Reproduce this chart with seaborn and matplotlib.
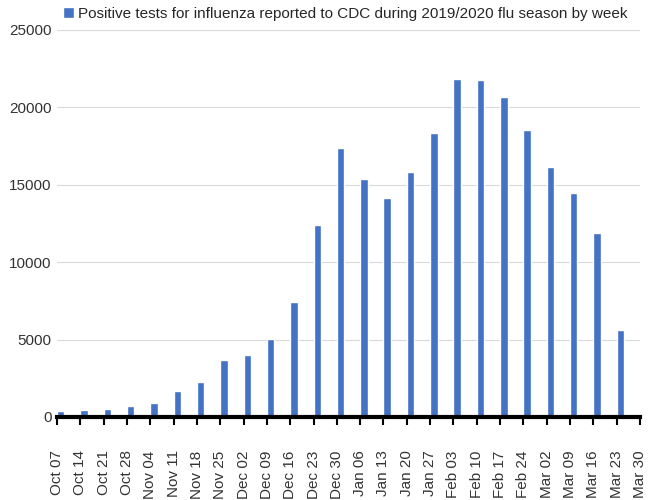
import matplotlib
matplotlib.use("Agg")
import matplotlib.pyplot as plt
import seaborn as sns
import numpy as np
import pandas as pd

weeks = ["Oct 07","Oct 14","Oct 21","Oct 28","Nov 04","Nov 11","Nov 18","Nov 25","Dec 02","Dec 09",
         "Dec 16","Dec 23","Dec 30","Jan 06","Jan 13","Jan 20","Jan 27","Feb 03","Feb 10","Feb 17",
         "Feb 24","Mar 02","Mar 09","Mar 16","Mar 23","Mar 30"]
positives = [400, 480, 520, 700, 900, 1650, 2250, 3650, 4000, 5050,
             7400, 12400, 17350, 15400, 14150, 15850, 18350, 21850, 21800, 20650,
             18550, 16150, 14500, 11900, 5600, 1200]
label = "Positive tests for influenza reported to CDC during 2019/2020 flu season by week"

sns.set_style("white")
plt.rcParams['font.family'] = ['Liberation Sans', 'DejaVu Sans']
fig = plt.figure(figsize=(6.5, 5), dpi=100)
ax = fig.add_axes([57/650, 83/500, 583/650, 387/500])
df = pd.DataFrame({"week": weeks, "value": positives})
sns.barplot(data=df, x="week", y="value", color="#4472c4", saturation=1, width=0.32, ax=ax, label=label)
n = len(weeks)
ax.set_xticks(np.arange(n) - 0.16)
ax.set_xticklabels(weeks, rotation=90, fontsize=11, color="#333333")
ax.set_xlim(-0.16, n - 1.16 + 0.001)
ax.set_ylim(0, 25000)
ax.set_yticks(range(0, 25001, 5000))
ax.tick_params(axis='y', labelsize=11, colors="#333333", length=0, pad=4)
ax.tick_params(axis='x', length=6, width=1.5, color="black", pad=18, direction='out', bottom=True)
ax.yaxis.grid(True, color="#d9d9d9", linewidth=0.8)
ax.set_axisbelow(True)
for s in ["left", "right", "top"]:
    ax.spines[s].set_visible(False)
ax.spines["bottom"].set_linewidth(3)
ax.spines["bottom"].set_color("black")
ax.set_xlabel("")
ax.set_ylabel("")
ax.legend(loc="upper left", bbox_to_anchor=(0.0, 1.075), frameon=False, fontsize=11,
          handlelength=0.7, handleheight=0.7, handletextpad=0.3, borderaxespad=0)
fig.savefig("out.png", dpi=100)
